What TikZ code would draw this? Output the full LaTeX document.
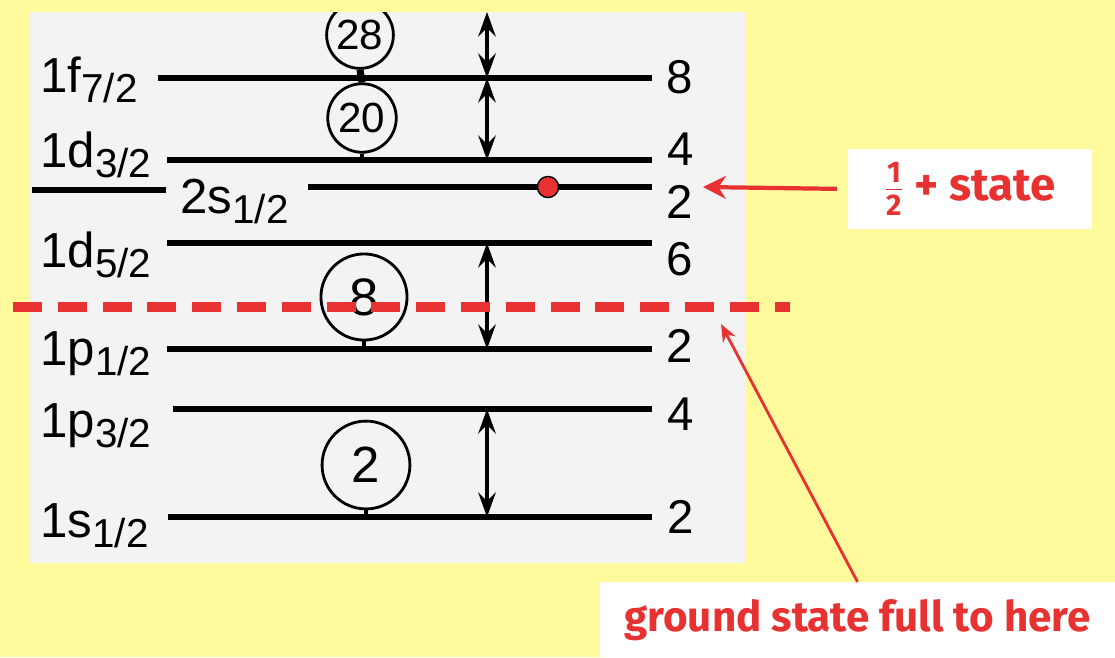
\documentclass[tikz,border=0pt]{standalone}
\usepackage{fontspec}
\setmainfont{Liberation Sans}
\newfontfamily\notefont{Fira Sans}
\usetikzlibrary{arrows.meta,positioning,calc}
\definecolor{paleyellow}{RGB}{255,250,156}
\definecolor{scangray}{RGB}{243,243,243}
\definecolor{notered}{RGB}{232,50,50}
\tikzset{
    level/.style={line width=3.5pt, black},
    shell/.style={
        circle,
        draw=black,
        line width=1.6pt,
        inner sep=0pt,
        font=\fontsize{24}{24}\selectfont
    },
    orbital/.style={font=\fontsize{28}{30}\selectfont, inner sep=0pt, anchor=base west},
    degen/.style={font=\fontsize{27}{30}\selectfont, inner sep=0pt, anchor=base},
    gap/.style={
        {Stealth[length=14pt,width=10pt,inset=5pt]}-{Stealth[length=14pt,width=10pt,inset=5pt]},
        line width=2.2pt
    },
    notebox/.style={
        rectangle,
        fill=white,
        text=notered,
        inner sep=0pt,
        font=\notefont\bfseries\fontsize{24}{28}\selectfont
    },
    pointer/.style={
        -{Stealth[length=10pt,width=8pt]},
        notered,
        line width=1.6pt
    }
}
\newcommand{\orb}[2]{#1\raisebox{-6pt}{\fontsize{23}{23}\selectfont #2}}

\begin{document}
\begin{tikzpicture}[x=0.02cm, y=-0.02cm]
\useasboundingbox (0,0) rectangle (1115,657);
\fill[paleyellow] (0,0) rectangle (1115,657);

% scanned level scheme
\fill[scangray] (30,12) rectangle (746,563);

% level ends
\coordinate (f72L) at (158,78);  \coordinate (f72R) at (652,78);
\coordinate (d32L) at (167,160); \coordinate (d32R) at (652,160);
\coordinate (s12L) at (308,187); \coordinate (s12R) at (652,187);
\coordinate (d52L) at (167,243); \coordinate (d52R) at (652,243);
\coordinate (p12L) at (167,349); \coordinate (p12R) at (652,349);
\coordinate (p32L) at (173,409); \coordinate (p32R) at (652,409);
\coordinate (s1L) at (168,517);  \coordinate (s1R) at (652,517);
\coordinate (gapx) at (487,12);

\foreach \lv in {f72,d32,s12,d52,p12,p32,s1}
    \draw[level] (\lv L) -- (\lv R);
\draw[level] (32,190) -- (166,190);

% orbital names
\node[orbital] (f72name) at (40,92)  {\orb{1f}{7/2}};
\node[orbital] (d32name) at (40,167) {\orb{1d}{3/2}};
\node[orbital] (s12name) at (180,213) {\orb{2s}{1/2}};
\node[orbital] (d52name) at (40,267) {\orb{1d}{5/2}};
\node[orbital] (p12name) at (40,365) {\orb{1p}{1/2}};
\node[orbital] (p32name) at (40,437) {\orb{1p}{3/2}};
\node[orbital] (s1name) at (40,537)  {\orb{1s}{1/2}};

% occupancies
\node[degen] (f72num) at (680,93)  {8};
\node[degen] (d32num) at (681,165) {4};
\node[degen] (s12num) at (680,218) {2};
\node[degen] (d52num) at (680,275) {6};
\node[degen] (p12num) at (680,362) {2};
\node[degen] (p32num) at (681,430) {4};
\node[degen] (s1num) at (681,533)  {2};

% magic numbers
\begin{scope}
\clip (30,12) rectangle (746,563);
\node[shell, minimum size=38pt] (m28) at (360,35) {28};
\end{scope}
\node[shell, minimum size=39pt] (m20) at (362,118) {20};
\node[shell, minimum size=49pt, font=\fontsize{30}{30}\selectfont] (m8) at (364,297) {8};
\node[shell, minimum size=50pt, font=\fontsize{29}{29}\selectfont] (m2) at (366,465) {2};
\draw[line width=4pt] (m28.south) -- (m20.north);
\draw[line width=2pt] (m20.south) -- (m20.south |- d32L);
\draw[line width=2pt] (m8.south) -- (m8.south |- p12L);
\draw[line width=2pt] (m2.south) -- (m2.south |- s1L);

% shell gaps
\draw[gap] (gapx) -- (gapx |- f72R);
\draw[gap] (gapx |- f72R) -- (gapx |- d32R);
\draw[gap] (gapx |- d52R) -- (gapx |- p12R);
\draw[gap] (gapx |- p32R) -- (gapx |- s1R);

% odd nucleon
\node[circle, fill=notered, draw=black, line width=0.8pt, minimum size=12pt, inner sep=0pt] (electron) at (548,187) {};

% ground state boundary
\coordinate (dashL) at (13,307);
\coordinate (dashR) at (790,307);
\draw[notered, line width=6pt, dash pattern=on 16.5pt off 9pt] (dashL) -- (dashR);

% notes
\node[notebox, minimum width=139pt, minimum height=45pt, font=\notefont\bfseries\fontsize{26}{30}\selectfont] (halfbox) at (970,189)
    {$\frac{\mbox{\fontsize{17}{17}\selectfont 1}}{\mbox{\fontsize{17}{17}\selectfont 2}}$ + state};
\node[notebox, minimum width=293pt, minimum height=43pt] (groundbox) at (857.5,620)
    {ground state full to here};
\coordinate (halftip) at (703,187);
\coordinate (fulltip) at (721,324);
\draw[notered, line width=2.4pt, -{Stealth[length=13pt,width=13pt]}, shorten <=6pt] (halfbox.west) -- (halftip);
\draw[pointer] (groundbox.north) -- (fulltip);
\end{tikzpicture}
\end{document}
